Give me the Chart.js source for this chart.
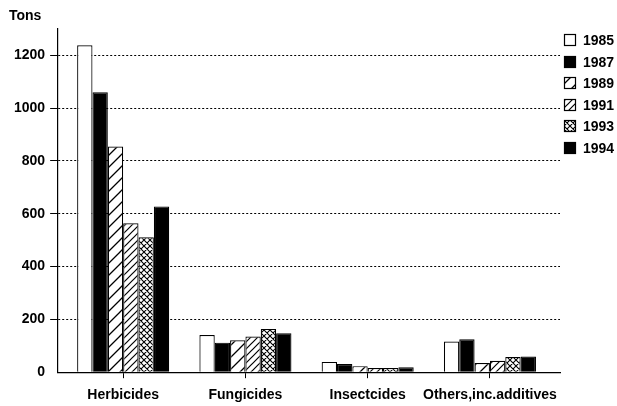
<!DOCTYPE html>
<html><head><meta charset="utf-8">
<script src="https://cdn.jsdelivr.net/npm/chart.js@4.4.0/dist/chart.umd.min.js"></script>
<style>html,body{margin:0;padding:0;background:#fff}</style>
</head><body>
<canvas id="c" width="617" height="406"></canvas>
<script>
const categories = ['Herbicides', 'Fungicides', 'Insectcides', 'Others,inc.additives'];
const years = ['1985', '1987', '1989', '1991', '1993', '1994'];
const v1985 = [1238, 141, 39, 116];
const v1987 = [1060, 112, 31, 125];
const v1989 = [855, 121, 23, 35];
const v1991 = [564, 135, 16, 43];
const v1993 = [511, 164, 16, 58];
const v1994 = [628, 148, 19, 59];
const yTicks = [0, 200, 400, 600, 800, 1000, 1200];
const yUnit = 'Tons';

function hatch(size, dirs, lw) {
  const c = document.createElement('canvas');
  c.width = c.height = size;
  const g = c.getContext('2d');
  g.fillStyle = '#fff'; g.fillRect(0, 0, size, size);
  g.strokeStyle = '#000'; g.lineWidth = lw;
  g.beginPath();
  for (let k = -1; k <= 1; k++) {
    if (dirs.includes('/')) { g.moveTo(k * size - 1, size + 1); g.lineTo(k * size + size + 1, -1); }
    if (dirs.includes('\\')) { g.moveTo(k * size - 1, -1); g.lineTo(k * size + size + 1, size + 1); }
  }
  g.stroke();
  return g.createPattern(c, 'repeat');
}
const ctx = document.getElementById('c').getContext('2d');
const fills = ['#ffffff', '#000000', hatch(12, '/', 1.3), hatch(7, '/', 1.2), hatch(6, '/\\', 1.1), '#000000'];
const series = [v1985, v1987, v1989, v1991, v1993, v1994];

const datasets = series.map((vals, i) => ({
  label: years[i],
  data: vals.map((v, j) => ({x: j, y: v})),
  backgroundColor: fills[i],
  borderColor: '#000',
  borderWidth: 1.2,
  categoryPercentage: 0.753,
  barPercentage: 1
}));

const FAM = 'Arial, "Liberation Sans", sans-serif';
const FONT = {family: FAM, size: 14, weight: 'bold'};

const extras = {
  id: 'extras',
  afterDraw(chart) {
    const c = chart.ctx, a = chart.chartArea;
    c.save();
    c.font = 'bold 14px ' + FAM;
    c.fillStyle = '#000';
    c.textBaseline = 'middle';
    c.textAlign = 'left';
    c.fillText(yUnit, 9, 16);
    chart.data.datasets.forEach((ds, i) => {
      const y = Math.round(a.top + 11 + i * 21.6);
      const x = Math.round(a.right + 4);
      c.fillStyle = ds.backgroundColor;
      c.fillRect(x, y - 6, 12, 12);
      c.strokeStyle = '#000'; c.lineWidth = 1.2;
      c.strokeRect(x + 0.5, y - 5.5, 11, 11);
      c.fillStyle = '#000';
      c.fillText(ds.label, x + 19, y + 1);
    });
    c.restore();
  }
};

new Chart(ctx, {
  type: 'bar',
  data: {datasets},
  plugins: [extras],
  options: {
    responsive: false,
    animation: false,
    devicePixelRatio: 1,
    layout: {padding: {left: 9, right: 57, top: 29, bottom: -7}},
    plugins: {legend: {display: false}, tooltip: {enabled: false}, title: {display: false}},
    scales: {
      x: {
        type: 'linear',
        offset: false,
        min: -0.54,
        max: 3.573,
        afterBuildTicks: s => { s.ticks = categories.map((_, i) => ({value: i})); },
        ticks: {callback: v => categories[v], font: FONT, color: '#000', padding: 9, maxRotation: 0, autoSkip: false},
        grid: {offset: false, drawOnChartArea: false, drawTicks: true, tickLength: 6, tickColor: '#000', color: '#000'},
        border: {color: '#000', width: 1.2}
      },
      y: {
        min: 0,
        max: 1300,
        afterBuildTicks: s => { s.ticks = yTicks.map(v => ({value: v})); },
        ticks: {font: FONT, color: '#000', padding: 5, callback: v => String(v)},
        grid: {
          color: c => c.tick && c.tick.value === 0 ? 'rgba(0,0,0,0)' : '#000',
          tickColor: c => c.tick && c.tick.value === 0 ? 'rgba(0,0,0,0)' : '#000',
          tickLength: 7,
          lineWidth: 1
        },
        border: {color: '#000', width: 1.2, dash: [2, 2]}
      }
    }
  }
});
</script>
</body></html>
